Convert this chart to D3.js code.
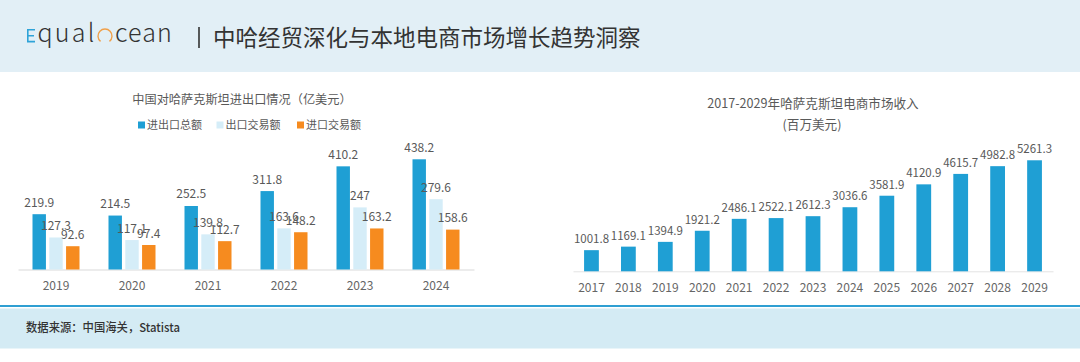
<!DOCTYPE html>
<html>
<head>
<meta charset="utf-8">
<script src="https://cdn.jsdelivr.net/npm/d3@7/dist/d3.min.js"></script>
<style>
  html, body { margin: 0; padding: 0; background: #fff; }
  svg { display: block; }
  text { font-family: "Noto Sans CJK SC", "Open Sans", sans-serif; }
</style>
</head>
<body>
<svg id="chart" width="1080" height="362"></svg>
<script>
// ---------- data ----------
const tradeYears = ["2019", "2020", "2021", "2022", "2023", "2024"];
const tradeSeries = ["进出口总额", "出口交易额", "进口交易额"];
const tradeTotal = [219.9, 214.5, 252.5, 311.8, 410.2, 438.2];
const tradeExport = [127.3, 117.1, 139.8, 163.6, 247, 279.6];
const tradeImport = [92.6, 97.4, 112.7, 148.2, 163.2, 158.6];
const tradeLabels = [
  ["219.9", "214.5", "252.5", "311.8", "410.2", "438.2"],
  ["127.3", "117.1", "139.8", "163.6", "247", "279.6"],
  ["92.6", "97.4", "112.7", "148.2", "163.2", "158.6"]
];
const ecomYears = ["2017","2018","2019","2020","2021","2022","2023","2024","2025","2026","2027","2028","2029"];
const ecomRevenue = [1001.8, 1169.1, 1394.9, 1921.2, 2486.1, 2522.1, 2612.3, 3036.6, 3581.9, 4120.9, 4615.7, 4982.8, 5261.3];

const seriesColors = ["#1f9fd4", "#d5edf8", "#f68b1f"];

const svg = d3.select("#chart");

// ---------- header ----------
svg.append("rect").attr("x", 0).attr("y", 0).attr("width", 1080).attr("height", 72).attr("fill", "#e2eff6");

// logo
const logo = svg.append("g");
logo.append("path")
  .attr("d", "M35,29.8 H27.8 V41.6 H35 M27.8,35.7 H34")
  .attr("fill", "none").attr("stroke", "#2ea3d8").attr("stroke-width", 1.6);

function fitText(t, w) {
  const n = t.text().length;
  const len = t.node().getComputedTextLength();
  t.attr("letter-spacing", ((w - len) / n).toFixed(2));
}
const q = logo.append("text").attr("x", 37.5).attr("y", 42.3)
  .attr("font-family", "Open Sans").attr("font-weight", 300).attr("font-size", 25)
  .attr("fill", "#333").text("qual");
fitText(q, 59);
logo.append("path")
  .attr("d", d3.arc()({innerRadius: 6.3, outerRadius: 7.7, startAngle: Math.PI * 1.22, endAngle: Math.PI * 2.78}))
  .attr("transform", "translate(105,36)")
  .attr("fill", "#f0a04a");
const c = logo.append("text").attr("x", 115).attr("y", 42.3)
  .attr("font-family", "Open Sans").attr("font-weight", 300).attr("font-size", 25)
  .attr("fill", "#333").text("cean");
fitText(c, 58);

svg.append("line").attr("x1", 199).attr("x2", 199).attr("y1", 27).attr("y2", 48)
  .attr("stroke", "#333").attr("stroke-width", 1.6);
svg.append("text").attr("x", 213).attr("y", 45.5).attr("font-size", 22.5).attr("fill", "#333")
  .text("中哈经贸深化与本地电商市场增长趋势洞察");

// ---------- left chart ----------
const L = svg.append("g");
L.append("text").attr("x", 242).attr("y", 103.6).attr("text-anchor", "middle")
  .attr("font-size", 12.2).attr("fill", "#595959").text("中国对哈萨克斯坦进出口情况（亿美元）");

// legend
const legendX = [138, 216.5, 297];
tradeSeries.forEach((s, i) => {
  const g = L.append("g").attr("transform", `translate(${legendX[i]},125)`);
  g.append("rect").attr("x", 0).attr("y", -3.5).attr("width", 7).attr("height", 7).attr("fill", seriesColors[i]);
  g.append("text").attr("x", 9).attr("y", 4).attr("font-size", 11).attr("fill", "#595959").text(s);
});

const xL = d3.scaleBand().domain(tradeYears).range([18, 474]);
const xL1 = d3.scaleBand().domain(tradeSeries).range([0, 47]).paddingInner(0.2);
const yL = d3.scaleLinear().domain([0, 500]).range([269.5, 269.5 - 500 * 0.2515]);
const tradeData = [tradeTotal, tradeExport, tradeImport];

const axL = L.append("g").attr("transform", "translate(0,269.5)")
  .call(d3.axisBottom(xL).tickSize(0).tickSizeOuter(0).tickPadding(12.3));
axL.select(".domain").attr("stroke", "#d9d9d9");
axL.selectAll(".tick text").attr("font-size", 12).attr("fill", "#666")
  .attr("font-family", "Noto Sans CJK SC");

tradeData.forEach((vals, si) => {
  const s = tradeSeries[si];
  L.append("g").selectAll("rect").data(vals).join("rect")
    .attr("x", (d, i) => xL(tradeYears[i]) + xL.bandwidth() / 2 - 23.5 + xL1(s))
    .attr("y", d => yL(d))
    .attr("width", xL1.bandwidth())
    .attr("height", d => yL(0) - yL(d))
    .attr("fill", seriesColors[si]);
});
tradeData.forEach((vals, si) => {
  const s = tradeSeries[si];
  L.append("g").selectAll("text").data(vals).join("text")
    .attr("x", (d, i) => xL(tradeYears[i]) + xL.bandwidth() / 2 - 23.5 + xL1(s) + xL1.bandwidth() / 2)
    .attr("y", d => yL(d) - 7.5)
    .attr("text-anchor", "middle").attr("font-size", 12).attr("fill", "#595959")
    .text((d, i) => tradeLabels[si][i]);
});

// ---------- right chart ----------
const R = svg.append("g");
R.append("text").attr("x", 813).attr("y", 107.5).attr("text-anchor", "middle")
  .attr("font-size", 12.6).attr("fill", "#595959").text("2017-2029年哈萨克斯坦电商市场收入");
R.append("text").attr("x", 812).attr("y", 129).attr("text-anchor", "middle")
  .attr("font-size", 12.6).attr("fill", "#595959").text("(百万美元)");

const xR = d3.scaleBand().domain(ecomYears).range([573, 1053]).paddingInner(0.6).paddingOuter(0.3);
const yR = d3.scaleLinear().domain([0, 6000]).range([271.3, 271.3 - 6000 * 0.0211]);

const axR = R.append("g").attr("transform", "translate(0,271.3)")
  .call(d3.axisBottom(xR).tickSize(0).tickSizeOuter(0).tickPadding(12.5));
axR.select(".domain").attr("stroke", "#e3e3e3");
axR.selectAll(".tick text").attr("font-size", 12).attr("fill", "#666")
  .attr("font-family", "Noto Sans CJK SC");

R.append("g").selectAll("rect").data(ecomRevenue).join("rect")
  .attr("x", (d, i) => xR(ecomYears[i]))
  .attr("y", d => yR(d))
  .attr("width", xR.bandwidth())
  .attr("height", d => yR(0) - yR(d))
  .attr("fill", seriesColors[0]);
R.append("g").selectAll("text").data(ecomRevenue).join("text")
  .attr("x", (d, i) => xR(ecomYears[i]) + xR.bandwidth() / 2)
  .attr("y", d => yR(d) - 7)
  .attr("text-anchor", "middle").attr("font-size", 11.5).attr("fill", "#595959")
  .text(d => d.toFixed(1));

// ---------- footer ----------
svg.append("rect").attr("x", 0).attr("y", 305).attr("width", 1080).attr("height", 2).attr("fill", "#2f9fd2");
svg.append("rect").attr("x", 0).attr("y", 308.5).attr("width", 1080).attr("height", 40).attr("fill", "#d4ebf4");
svg.append("text").attr("x", 26).attr("y", 331.5).attr("font-size", 12).attr("fill", "#333")
  .attr("font-weight", 500).attr("textLength", 154).attr("lengthAdjust", "spacingAndGlyphs")
  .text("数据来源：中国海关，Statista");
</script>
</body>
</html>
